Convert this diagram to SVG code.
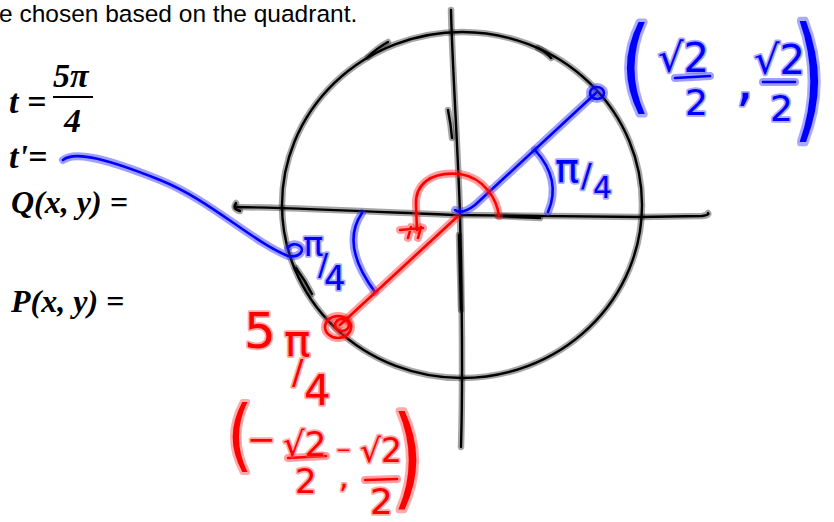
<svg xmlns="http://www.w3.org/2000/svg" xmlns:xlink="http://www.w3.org/1999/xlink" width="834" height="522" viewBox="0 0 834 522">
<style>
.kh{stroke:#000;stroke-opacity:.35;stroke-width:6.5;fill:none;stroke-linecap:round;stroke-linejoin:round}
.kc{stroke:#000;stroke-width:2.4;fill:none;stroke-linecap:round;stroke-linejoin:round}
.bh{stroke:#2a2aff;stroke-opacity:.45;stroke-width:8;fill:none;stroke-linecap:round;stroke-linejoin:round}
.bc{stroke:#0000ff;stroke-width:2.6;fill:none;stroke-linecap:round;stroke-linejoin:round}
.rh{stroke:#ff2a2a;stroke-opacity:.45;stroke-width:8;fill:none;stroke-linecap:round;stroke-linejoin:round}
.rc{stroke:#ff0000;stroke-width:2.6;fill:none;stroke-linecap:round;stroke-linejoin:round}
.hw{font-family:"DejaVu Sans",sans-serif;stroke-width:3.5;stroke-linejoin:round;paint-order:stroke}
.hb{fill:#0000ff;stroke:#5555ff;stroke-opacity:.5}
.hr{fill:#ff0000;stroke:#ff5555;stroke-opacity:.5}
.m{font-family:"Liberation Serif","Times New Roman",serif;font-weight:bold;font-style:italic;fill:#000}
.top{font-family:"Liberation Sans",Arial,sans-serif;font-size:24.5px;fill:#000}
</style>
<defs>
<g id="kpaths">
<path d="M236,207 C300,208 380,212 453,215 L640,217 L702,216 Q710,215 708,213"/>
<path d="M240,211 Q232,209 236,203"/>
<path d="M498,216 L540,218"/>
<path d="M451,10 C452,60 458,150 460,215 C462,300 463,380 461,447"/>
<path d="M448,110 Q451,125 452,138"/>
<path d="M459,235 L461,310"/>
<ellipse cx="462" cy="205" rx="180" ry="173"/>
<path d="M368,57 Q377,48 388,42"/>
<path d="M538,48 Q546,52 551,58"/>
<path d="M296,268 Q305,280 312,294"/>
</g>
<g id="bpaths">
<path d="M63,160 C75,150 110,160 160,180 C210,200 250,240 288,256 C300,258 305,250 300,246 C296,243 290,244 288,248"/>
<path d="M455,210 Q462,215 475,205 L596,93"/>
<ellipse cx="597" cy="93" rx="7" ry="6"/>
<path d="M535,150 Q562,180 548,212"/>
<path d="M362,213 Q340,245 375,292"/>
<path d="M675,78 L710,76"/>
<path d="M763,82 L795,82"/>
</g>
<g id="rpaths">
<path d="M457,217 L340,325"/>
<ellipse cx="338" cy="327" rx="13" ry="11"/>
<ellipse cx="342" cy="325" rx="7" ry="6"/>
<path d="M499,216 C497,200 485,178 460,174 C430,171 415,185 416,205 L417,230"/>
<path d="M400,230 L423,228 M408,238 L411,227 M418,238 L421,227"/>
<path d="M288,458 L326,456"/>
<path d="M365,480 L397,479"/>
</g>
</defs>

<g id="header">
<text class="top" x="-1" y="22">e chosen based on the quadrant.</text>
</g>

<g id="formulas">
<text class="m" x="9" y="113" font-size="34">t</text>
<text class="m" x="27" y="113" font-size="34" font-style="normal">=</text>
<text class="m" x="53" y="87" font-size="34">5π</text>
<line x1="53" y1="97" x2="93" y2="97" stroke="#000" stroke-width="2"/>
<text class="m" x="64" y="132" font-size="34" font-style="normal">4</text>
<text class="m" x="9" y="168" font-size="34">t'=</text>
<text class="m" x="11" y="213" font-size="32">Q(x, y) =</text>
<text class="m" x="11" y="312" font-size="32">P(x, y) =</text>
</g>

<g id="axes-circle">
<use xlink:href="#kpaths" class="kh"/>
<use xlink:href="#kpaths" class="kc"/>
</g>

<g id="blue-annotations">
<use xlink:href="#bpaths" class="bh"/>
<use xlink:href="#bpaths" class="bc"/>
<text class="hw hb"><tspan x="555" y="182" font-size="40">π</tspan><tspan x="581" y="186" font-size="32">/</tspan><tspan x="593" y="198" font-size="30">4</tspan></text>
<text class="hw hb"><tspan x="303" y="256" font-size="34">π</tspan><tspan x="318" y="275" font-size="30">/</tspan><tspan x="324" y="290" font-size="34">4</tspan></text>
<text class="hw hb" transform="translate(620,101) scale(1.6,2.07)" x="0" y="0" font-size="50">(</text>
<text class="hw hb"><tspan x="658" y="72" font-size="40">√2</tspan><tspan x="685" y="115" font-size="36">2</tspan><tspan x="736" y="100" font-size="56">,</tspan><tspan x="754" y="74" font-size="40">√2</tspan><tspan x="770" y="121" font-size="36">2</tspan></text>
<text class="hw hb" transform="translate(793,124) scale(1.5,2.45)" x="0" y="0" font-size="55">)</text>
</g>

<g id="red-annotations">
<use xlink:href="#rpaths" class="rh"/>
<use xlink:href="#rpaths" class="rc"/>
<text class="hw hr"><tspan x="244" y="348" font-size="50">5</tspan><tspan x="284" y="356" font-size="44">π</tspan><tspan x="292" y="384" font-size="34">/</tspan><tspan x="304" y="405" font-size="42">4</tspan></text>
<text class="hw hr" transform="translate(227,462) scale(1.5,1.77)" x="0" y="0" font-size="44">(</text>
<text class="hw hr"><tspan x="247" y="451" font-size="34">−</tspan><tspan x="283" y="456" font-size="34">√2</tspan><tspan x="295" y="493" font-size="34">2</tspan><tspan x="336" y="456" font-size="18">−</tspan><tspan x="339" y="487" font-size="30">,</tspan><tspan x="360" y="462" font-size="33">√2</tspan><tspan x="370" y="514" font-size="36">2</tspan></text>
<text class="hw hr" transform="translate(392,495) scale(1.6,2.2)" x="0" y="0" font-size="50">)</text>
</g>
</svg>
